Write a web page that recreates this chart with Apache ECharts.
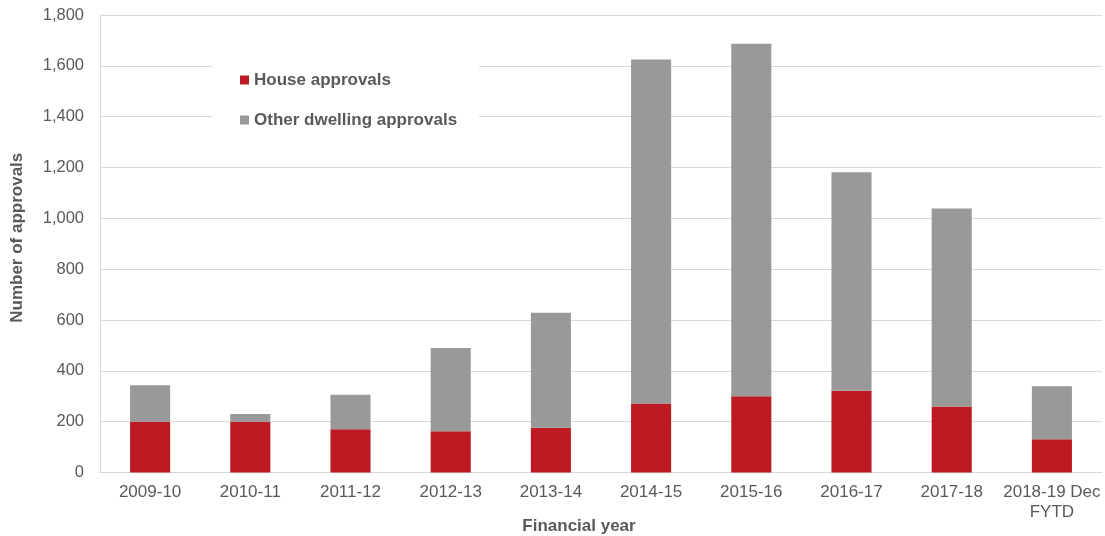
<!DOCTYPE html>
<html>
<head>
<meta charset="utf-8">
<script src="https://cdn.jsdelivr.net/npm/echarts@6/dist/echarts.min.js"></script>
<style>
  html, body { margin: 0; padding: 0; background: #fff; }
  #chart { width: 1105px; height: 536px; }
</style>
</head>
<body>
<div id="chart"></div>
<script>
// Financial years on the category axis
const years = ['2009-10', '2010-11', '2011-12', '2012-13', '2013-14',
               '2014-15', '2015-16', '2016-17', '2017-18', '2018-19 Dec\nFYTD'];
// Approvals by dwelling type (stacked)
const houseApprovals = [200, 200, 170, 162, 176, 271, 300, 322, 260, 131];
const otherDwellingApprovals = [143, 30, 136, 328, 453, 1354, 1387, 859, 779, 208];
// Value axis range
const yMin = 0, yMax = 1800, yStep = 200;

const textColor = '#595959';
const font = 'Liberation Sans, Arial, sans-serif';

const chart = echarts.init(document.getElementById('chart'), null, { renderer: 'canvas' });
chart.setOption({
  animation: false,
  backgroundColor: '#ffffff',
  textStyle: { fontFamily: font },
  grid: { left: 100, right: 3, top: 15, bottom: 63.5, containLabel: false, outerBoundsMode: 'none' },
  legend: {
    orient: 'vertical',
    left: 212,
    top: 60,
    padding: [10, 22, 10, 28],
    backgroundColor: '#ffffff',
    itemWidth: 9,
    itemHeight: 9,
    itemGap: 20,
    icon: 'rect',
    selectedMode: false,
    textStyle: { color: textColor, fontSize: 17, fontWeight: 'bold', fontFamily: font, lineHeight: 20 },
    data: ['House approvals', 'Other dwelling approvals']
  },
  xAxis: {
    type: 'category',
    data: years,
    name: 'Financial year',
    nameLocation: 'middle',
    nameGap: 45,
    nameMoveOverlap: false,
    nameTextStyle: { color: textColor, fontSize: 17, fontWeight: 'bold', fontFamily: font, padding: [0, 44, 0, 0] },
    axisLine: { lineStyle: { color: '#D9D9D9', width: 1 } },
    axisTick: { show: false },
    axisLabel: { color: textColor, fontSize: 17, fontFamily: font, margin: 10, lineHeight: 20, interval: 0 }
  },
  yAxis: {
    type: 'value',
    min: yMin,
    max: yMax,
    interval: yStep,
    name: 'Number of approvals',
    nameLocation: 'middle',
    nameRotate: 90,
    nameGap: 74,
    nameMoveOverlap: false,
    nameTextStyle: { color: textColor, fontSize: 17, fontWeight: 'bold', fontFamily: font, padding: [0, 0, 0, 12] },
    axisLine: { show: true, lineStyle: { color: '#D9D9D9', width: 1 } },
    axisTick: { show: false },
    axisLabel: {
      color: textColor, fontSize: 16.5, fontFamily: font, margin: 16,
      formatter: v => v.toLocaleString('en-US')
    },
    splitLine: { lineStyle: { color: '#D9D9D9', width: 1 } }
  },
  series: [
    {
      name: 'House approvals',
      type: 'bar',
      stack: 'total',
      barWidth: '40%',
      itemStyle: { color: '#BE1A24' },
      data: houseApprovals
    },
    {
      name: 'Other dwelling approvals',
      type: 'bar',
      stack: 'total',
      barWidth: '40%',
      itemStyle: { color: '#999999' },
      data: otherDwellingApprovals
    }
  ]
});
</script>
</body>
</html>
